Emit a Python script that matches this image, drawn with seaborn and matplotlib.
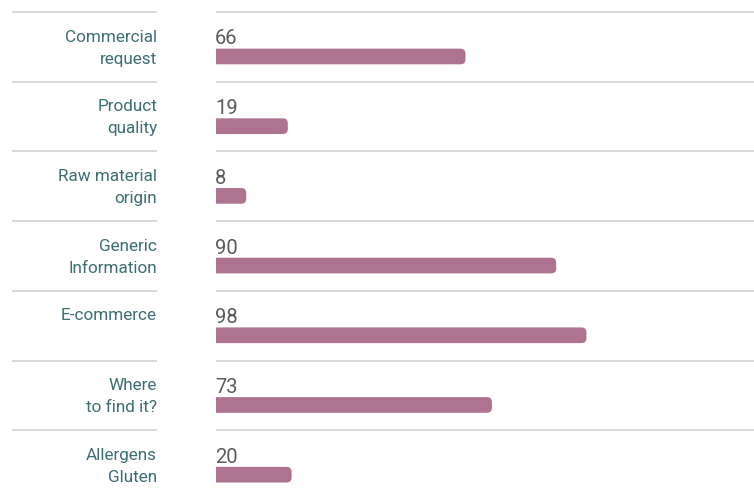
import numpy as np
import pandas as pd
import seaborn as sns
import matplotlib.pyplot as plt
from matplotlib.patches import FancyBboxPatch

# data
categories = ['Commercial\nrequest', 'Product\nquality', 'Raw material\norigin',
              'Generic\nInformation', 'E-commerce', 'Where\nto find it?', 'Allergens\nGluten']
values = [66, 19, 8, 90, 98, 73, 20]

bar_color = '#ad7391'
label_color = '#3d6e72'
num_color = '#5a5a5a'
line_color = '#d3d8db'

sns.set_theme(style='white')
plt.rcParams['font.family'] = ['Roboto', 'DejaVu Sans']

W, H = 754, 491
fig = plt.figure(figsize=(W / 100, H / 100), dpi=100)
left_px = 216
ax = fig.add_axes([left_px / W, 0, (W - left_px) / W, 1])

df = pd.DataFrame({'cat': categories, 'val': values})
sns.barplot(data=df, y='cat', x='val', orient='h', color=bar_color,
            width=0.225, saturation=1, ax=ax)

# scales: px per unit
px_x = 3.78
row_px = 69.7
off = 0.638  # bar center below separator line (rows)
xmax = (W - left_px) / px_x
ax.set_xlim(0, xmax)
ax.set_ylim((H - 12) / row_px - off, -12 / row_px - off)

# rounded right ends
aspect = (1 / row_px) / (1 / px_x)
r = 5 / px_x
for p in list(ax.patches):
    x, y, w, h = p.get_x(), p.get_y(), p.get_width(), p.get_height()
    p.remove()
    fb = FancyBboxPatch((-3, y), w + 3, h,
                        boxstyle=f'round,pad=0,rounding_size={r}',
                        mutation_aspect=aspect, facecolor=bar_color,
                        edgecolor='none')
    ax.add_patch(fb)

# separators, numbers, labels
for i, (cat, v) in enumerate(zip(categories, values)):
    yl = i - off
    ax.hlines(yl, 0, xmax, color=line_color, lw=1.3)
    ax.hlines(yl, (12 - left_px) / px_x, (157 - left_px) / px_x,
              color=line_color, lw=1.3, clip_on=False)
    ax.text(-0.2, yl + 27 / row_px, str(v), ha='left', va='center',
            fontsize=14.5, color=num_color)
    ax.text((157 - left_px) / px_x, yl + 17.5 / row_px, cat,
            ha='right', va='top', fontsize=12.3, color=label_color,
            linespacing=1.6, clip_on=False)

ax.set_axis_off()
fig.savefig('out.png', dpi=100)
